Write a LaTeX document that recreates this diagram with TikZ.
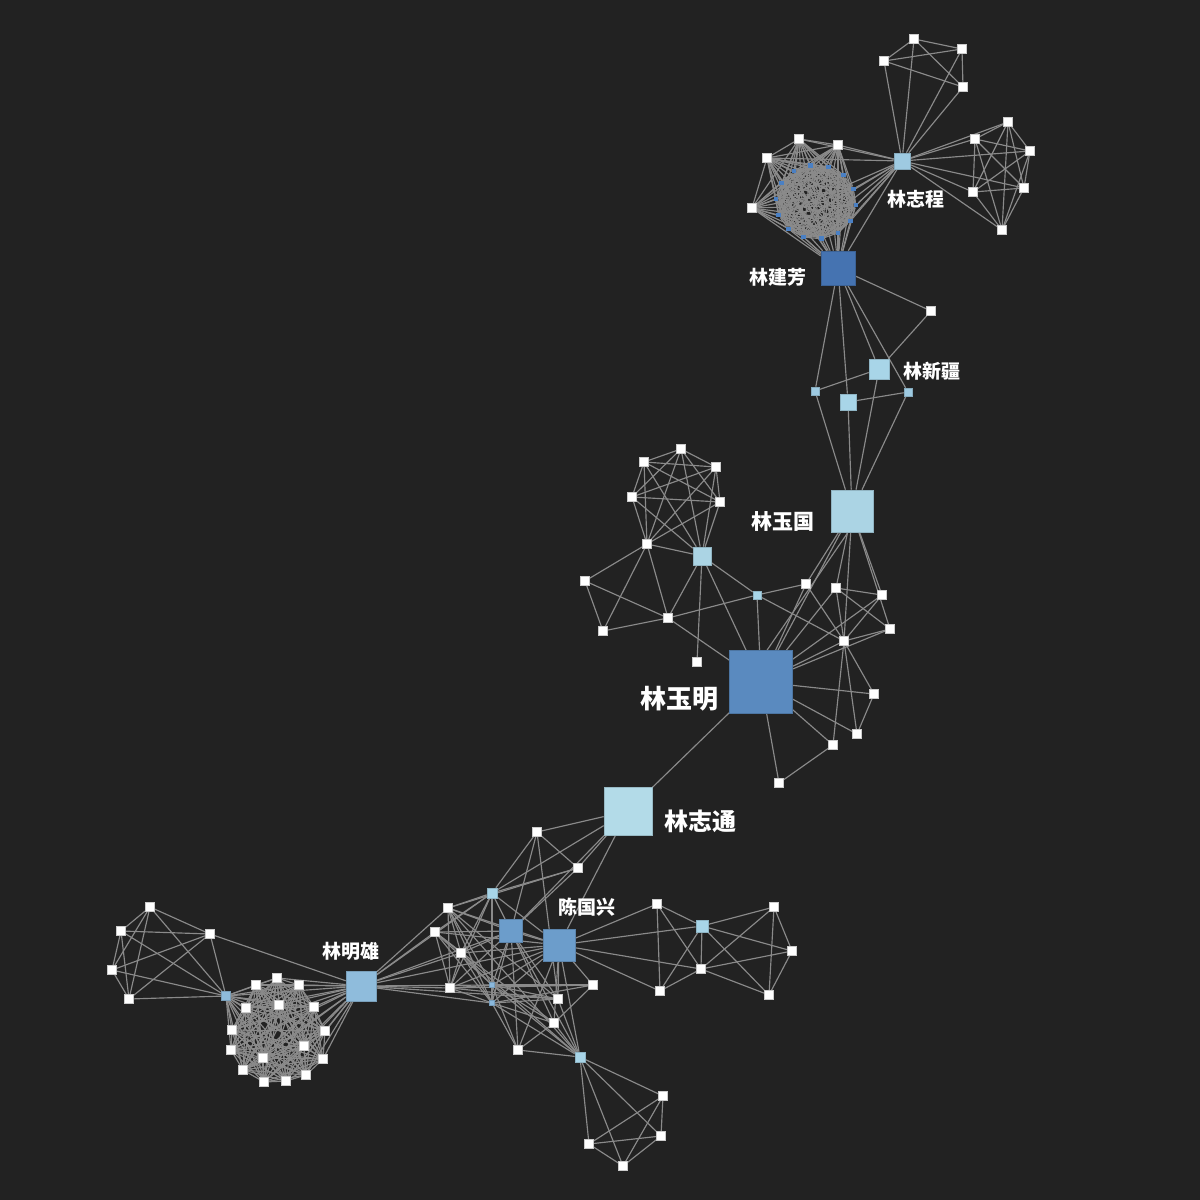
\documentclass[tikz,border=0pt]{standalone}
\usepackage{fontspec}
\newfontfamily\cjk{Noto Sans CJK SC}
\pgfdeclarelayer{bg}
\pgfsetlayers{bg,main}
\definecolor{bgc}{HTML}{222222}
\definecolor{edgec}{HTML}{8A8A8A}
\definecolor{lbc}{HTML}{9ECAE1}
\definecolor{jfc}{HTML}{4573B1}
\definecolor{xjc}{HTML}{A8D5E8}
\definecolor{ygc}{HTML}{ABD4E4}
\definecolor{ymc}{HTML}{5A8ABF}
\definecolor{ztc}{HTML}{B3DBE8}
\definecolor{cgc}{HTML}{6C9DCB}
\definecolor{mxc}{HTML}{8FBCDC}
\definecolor{dotc}{HTML}{4A80C4}
\definecolor{tinyc}{HTML}{8AB8DC}
\tikzset{
  wn/.style={rectangle,fill=white,draw=white!60!gray,line width=0.4pt,minimum size=9pt,inner sep=0pt},
  hub/.style 2 args={rectangle,fill=#1,draw=#1!85!black,line width=0.6pt,minimum size=#2,inner sep=0pt},
  bdot/.style={rectangle,fill=dotc,minimum size=4.5pt,inner sep=0pt},
  ed/.style={draw=edgec,line width=1.15pt},
  lab/.style={text=white,inner sep=0pt,font=\cjk\bfseries\fontsize{19}{19}\selectfont},
}
\begin{document}
\begin{tikzpicture}[x=1pt,y=-1pt]
\useasboundingbox (0,0) rectangle (1200,1200);
% ---------------- top: 林志程 ----------------
\node[hub={lbc}{16pt}] (zc) at (902,161) {};
\foreach \n/\x/\y in {a1/914/39,a2/962/49,a3/884/61,a4/963/87,
  b1/1008/122,b2/975/139,b3/1030/151,b4/973/192,b5/1024/188,b6/1002/230}
  \node[wn] (z\n) at (\x,\y) {};
\foreach \n/\x/\y in {1/799/139,2/838/145,3/767/158,4/752/208}
  \node[wn] (w\n) at (\x,\y) {};
\foreach \i in {1,...,14}
  \node[bdot] (t\i) at ({816+40*cos(\i*360/14+5)},{202+37*sin(\i*360/14+5)}) {};
\node[hub={jfc}{34pt}] (jf) at (838,268) {};
\node[wn] (x1) at (931,311) {};
\node[hub={xjc}{20pt}] (xj) at (879,369) {};
\node[hub={lbc}{8pt}] (x2) at (815,391) {};
\node[hub={xjc}{16pt}] (x3) at (848,402) {};
\node[hub={lbc}{8pt}] (x4) at (908,392) {};
\node[hub={ygc}{42pt}] (yg) at (852,511) {};
% ---------------- 林玉明 ----------------
\node[hub={ymc}{63pt}] (ym) at (761,682) {};
\foreach \n/\x/\y in {1/806/584,2/836/588,3/882/595,4/890/629,5/844/641,6/874/694,7/857/734,8/833/745,9/779/783}
  \node[wn] (p\n) at (\x,\y) {};
\node[hub={xjc}{8pt}] (ps) at (757,595) {};
\node[hub={ygc}{18pt}] (h2) at (702,556) {};
\foreach \n/\x/\y in {1/681/449,2/644/462,3/716/467,4/632/497,5/720/502,6/647/544,7/585/581,8/603/631,9/668/618,10/697/662}
  \node[wn] (q\n) at (\x,\y) {};
\node[hub={ztc}{48pt}] (zt) at (628,811) {};
% ---------------- bottom cluster ----------------
\foreach \n/\x/\y in {1/537/832,2/578/868,4/448/908,5/435/932,7/461/953,8/450/988,11/593/985,12/558/999,13/554/1023,14/518/1050}
  \node[wn] (b\n) at (\x,\y) {};
\node[hub={xjc}{10pt}] (b3) at (492,893) {};
\node[hub={cgc}{23pt}] (b6) at (511,931) {};
\node[hub={cgc}{32pt}] (cg) at (559,945) {};
\node[hub={tinyc}{5pt}] (b9) at (492,985) {};
\node[hub={tinyc}{5pt}] (b10) at (492,1003) {};
\node[hub={xjc}{10pt}] (b15) at (580,1057) {};
\foreach \n/\x/\y in {1/663/1096,2/661/1136,3/589/1144,4/623/1166}
  \node[wn] (c\n) at (\x,\y) {};
\foreach \n/\x/\y in {1/657/904,3/774/907,4/792/951,5/701/969,6/660/991,7/769/995}
  \node[wn] (r\n) at (\x,\y) {};
\node[hub={xjc}{12pt}] (r2) at (702,926) {};
\node[hub={mxc}{30pt}] (mx) at (361,986) {};
\foreach \n/\x/\y in {1/150/907,2/121/931,3/210/934,4/112/970,5/129/999}
  \node[wn] (L\n) at (\x,\y) {};
\node[hub={mxc}{9pt}] (L6) at (226,996) {};
\foreach \n/\x/\y in {1/277/978,2/256/985,3/299/985,4/246/1008,5/279/1005,6/314/1007,7/232/1030,8/325/1031,
  9/304/1046,10/231/1050,11/263/1058,12/323/1059,13/243/1070,14/306/1075,15/264/1082,16/286/1081}
  \node[wn] (m\n) at (\x,\y) {};
% ---------------- labels ----------------
\node[lab] (l1) at (916,199) {林志程};
\node[lab] (l2) at (778,277) {林建芳};
\node[lab] (l3) at (932,371) {林新疆};
\node[lab,font=\cjk\bfseries\fontsize{21}{21}\selectfont] (l4) at (783,521) {林玉国};
\node[lab,font=\cjk\bfseries\fontsize{26}{26}\selectfont] (l5) at (679,699) {林玉明};
\node[lab,font=\cjk\bfseries\fontsize{24}{24}\selectfont] (l6) at (700,821) {林志通};
\node[lab] (l7) at (587,907) {陈国兴};
\node[lab] (l8) at (351,951) {林明雄};
% ---------------- edges ----------------
\begin{pgfonlayer}{bg}
\fill[bgc] (0,0) rectangle (1200,1200);
% top group K5
\foreach \u/\v in {zc/za1,zc/za2,zc/za3,zc/za4,za1/za2,za1/za3,za1/za4,za2/za3,za2/za4,za3/za4}
  \draw[ed] (\u) -- (\v);
% right group K7
\foreach \u/\v in {zc/zb1,zc/zb2,zc/zb3,zc/zb4,zc/zb5,zc/zb6,zb1/zb2,zb1/zb3,zb1/zb4,zb1/zb5,zb1/zb6,
  zb2/zb3,zb2/zb4,zb2/zb5,zb2/zb6,zb3/zb4,zb3/zb5,zb3/zb6,zb4/zb5,zb4/zb6,zb5/zb6}
  \draw[ed] (\u) -- (\v);
% dense ring
\foreach \i in {1,...,13}{
  \pgfmathtruncatemacro\j{\i+1}
  \foreach \k in {\j,...,14} \draw[ed] (t\i) -- (t\k);
}
\foreach \i in {1,...,14}{
  \draw[ed] (jf) -- (t\i);
  \foreach \w in {w1,w2,w3,w4} \draw[ed] (\w) -- (t\i);
}
\foreach \i in {1,2,3,4,5,6,14,13}
  \draw[ed] (zc) -- (t\i);
\foreach \u/\v in {w1/w2,w1/w3,w2/w3,w3/w4,w1/w4,w1/zc,w2/zc,w3/zc,w4/jf,w3/jf,w2/jf,jf/zc,
  jf/x1,x1/xj,jf/xj,jf/x2,jf/x3,jf/x4,xj/x2,xj/yg,x3/x4,x3/yg,x2/yg,x4/yg}
  \draw[ed] (\u) -- (\v);
% 林玉国 / 林玉明
\foreach \u/\v in {yg/p1,yg/p2,yg/p3,yg/p4,yg/p5,yg/ym,
  ps/p1,ps/p5,ps/ym,ps/h2,ps/q9,p1/ym,p1/p5,p2/p3,p2/p4,p2/p5,p2/ym,p3/p5,p3/ym,p4/p5,p4/ym,
  p5/ym,p5/p6,p5/p7,p5/p8,p6/ym,p6/p7,p7/ym,p8/ym,p8/p9,p9/ym}
  \draw[ed] (\u) -- (\v);
\draw[ed] ([xshift=-4pt]yg.south) -- ([xshift=6pt]ym.north);
% left cluster K7
\foreach \u/\v in {q1/q2,q1/q3,q1/q4,q1/q5,q1/q6,q1/h2,q2/q3,q2/q4,q2/q5,q2/q6,q2/h2,
  q3/q4,q3/q5,q3/q6,q3/h2,q4/q5,q4/q6,q4/h2,q5/q6,q5/h2,q6/h2,
  q6/q7,q6/q8,q6/q9,q7/q8,q7/q9,q8/q9,q9/h2,q9/ym,h2/q10,h2/ym,ym/zt}
  \draw[ed] (\u) -- (\v);
% bottom cluster
\foreach \u/\v in {zt/b1,zt/b2,zt/b3,zt/b6,zt/cg,b1/b2,b1/b3,b1/b6,b1/b12,b2/b3,b2/b6,b2/b4,
  b3/b4,b3/b6,b3/cg,b3/b9,b3/b10,b3/b7,b3/b8,b3/b5,
  b4/b6,b4/cg,b4/b7,b4/b8,b4/b9,b4/b10,b4/b15,b4/b12,
  b5/b6,b5/cg,b5/b7,b5/b8,b5/b9,b5/b10,b5/b13,
  b6/cg,b6/b7,b6/b8,b6/b9,b6/b10,b6/b12,b6/b13,b6/b14,b6/b15,
  cg/b7,cg/b8,cg/b9,cg/b10,cg/b11,cg/b12,cg/b13,cg/b14,cg/b15,
  b7/b8,b7/b9,b7/b10,b7/b15,b8/b9,b8/b10,b8/b11,b8/b12,
  b9/b10,b9/b12,b9/b13,b9/b14,b9/b15,b9/b11,
  b10/b12,b10/b13,b10/b14,b10/b15,b10/b11,b11/b13,b13/b14,b13/b15,b14/b15,b12/b15,
  b15/c1,b15/c2,b15/c3,b15/c4,c1/c2,c1/c3,c1/c4,c2/c3,c2/c4,c3/c4,
  cg/r1,cg/r2,cg/r5,cg/r6,r1/r2,r1/r5,r1/r6,r2/r3,r2/r4,r2/r5,r2/r6,r2/r7,
  r3/r4,r3/r5,r3/r7,r4/r5,r4/r7,r5/r6,r5/r7,
  mx/b3,mx/b4,mx/b5,mx/b6,mx/cg,mx/b7,mx/b8,mx/b9,mx/b10,mx/b12,
  L1/L2,L1/L3,L1/L4,L1/L5,L1/L6,L2/L3,L2/L4,L2/L5,L2/L6,L3/L4,L3/L5,L3/L6,L4/L5,L4/L6,L5/L6,
  L3/mx,L6/mx}
  \draw[ed] (\u) -- (\v);
% dense K16 bottom-left
\foreach \i in {1,...,15}{
  \pgfmathtruncatemacro\j{\i+1}
  \foreach \k in {\j,...,16} \draw[ed] (m\i) -- (m\k);
}
\foreach \i in {1,...,16}{
  \draw[ed] (mx) -- (m\i);
  \draw[ed] (L6) -- (m\i);
}
\end{pgfonlayer}
\end{tikzpicture}
\end{document}
